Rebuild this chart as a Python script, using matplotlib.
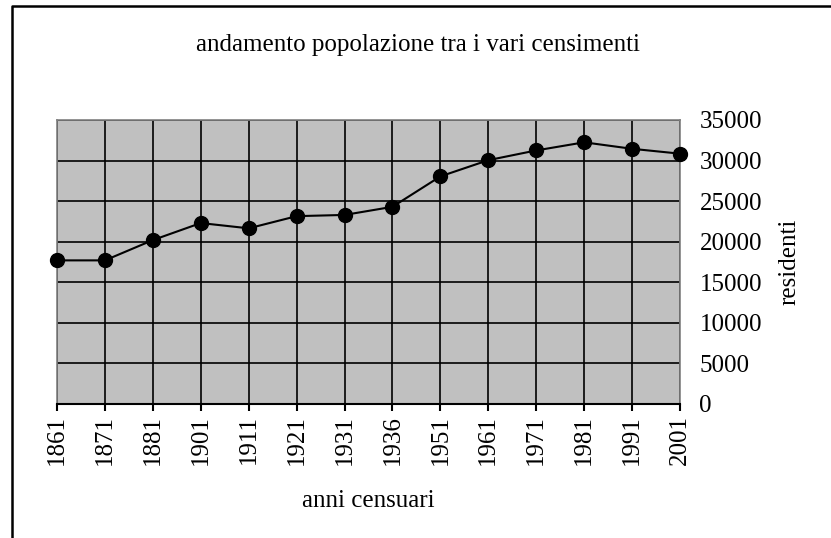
import matplotlib
matplotlib.use('Agg')
import matplotlib.pyplot as plt
from matplotlib.lines import Line2D

# dati censimenti
anni = ['1861', '1871', '1881', '1901', '1911', '1921', '1931', '1936',
        '1951', '1961', '1971', '1981', '1991', '2001']
residenti = [17700, 17700, 20200, 22300, 21650, 23150, 23300, 24300,
             28050, 30050, 31250, 32250, 31450, 30850]
y_ticks = [0, 5000, 10000, 15000, 20000, 25000, 30000, 35000]

plt.rcParams['font.family'] = ['Liberation Serif', 'DejaVu Serif']
FS = 18

fig = plt.figure(figsize=(8.31, 5.38), dpi=100)
ax = fig.add_axes([57 / 831, 134 / 538, 623 / 831, 284 / 538])
ax.set_facecolor('#c0c0c0')

x = list(range(len(anni)))
ax.plot(x, residenti, color='black', lw=1.5, marker='o', ms=10,
        clip_on=False, zorder=5)

ax.set_xlim(0, len(anni) - 1)
ax.set_ylim(0, 35000)
ax.set_xticks(x)
ax.set_xticklabels(anni, rotation=90, fontsize=FS)
ax.set_yticks(y_ticks)
ax.set_yticklabels([str(v) for v in y_ticks], fontsize=FS)

ax.yaxis.tick_right()
ax.tick_params(axis='y', length=0, pad=14)
ax.tick_params(axis='x', length=5, width=1.5, color='black', pad=3, direction='out')

ax.grid(True, color='black', lw=1.2)
ax.set_axisbelow(True)

for side in ['left', 'right', 'top']:
    ax.spines[side].set_color('#808080')
    ax.spines[side].set_linewidth(1.2)
ax.spines['bottom'].set_color('black')
ax.spines['bottom'].set_linewidth(1.5)

ax.set_ylabel('residenti', fontsize=FS)
ax.yaxis.set_label_position('right')
ax.yaxis.set_label_coords((778 - 57) / 623, 0.5)
ax.set_xlabel('anni censuari', fontsize=FS)
ax.xaxis.set_label_coords((368 - 57) / 623, -(490 - 404) / 284)

fig.text(418 / 831, 1 - 45 / 538, 'andamento popolazione tra i vari censimenti',
         ha='center', va='center', fontsize=FS)

# cornice esterna
fig.add_artist(Line2D([12 / 831, 12 / 831, 1], [0, 1 - 6 / 538, 1 - 6 / 538],
                      transform=fig.transFigure, color='black', lw=1.8))

fig.savefig('out.png', dpi=100)
